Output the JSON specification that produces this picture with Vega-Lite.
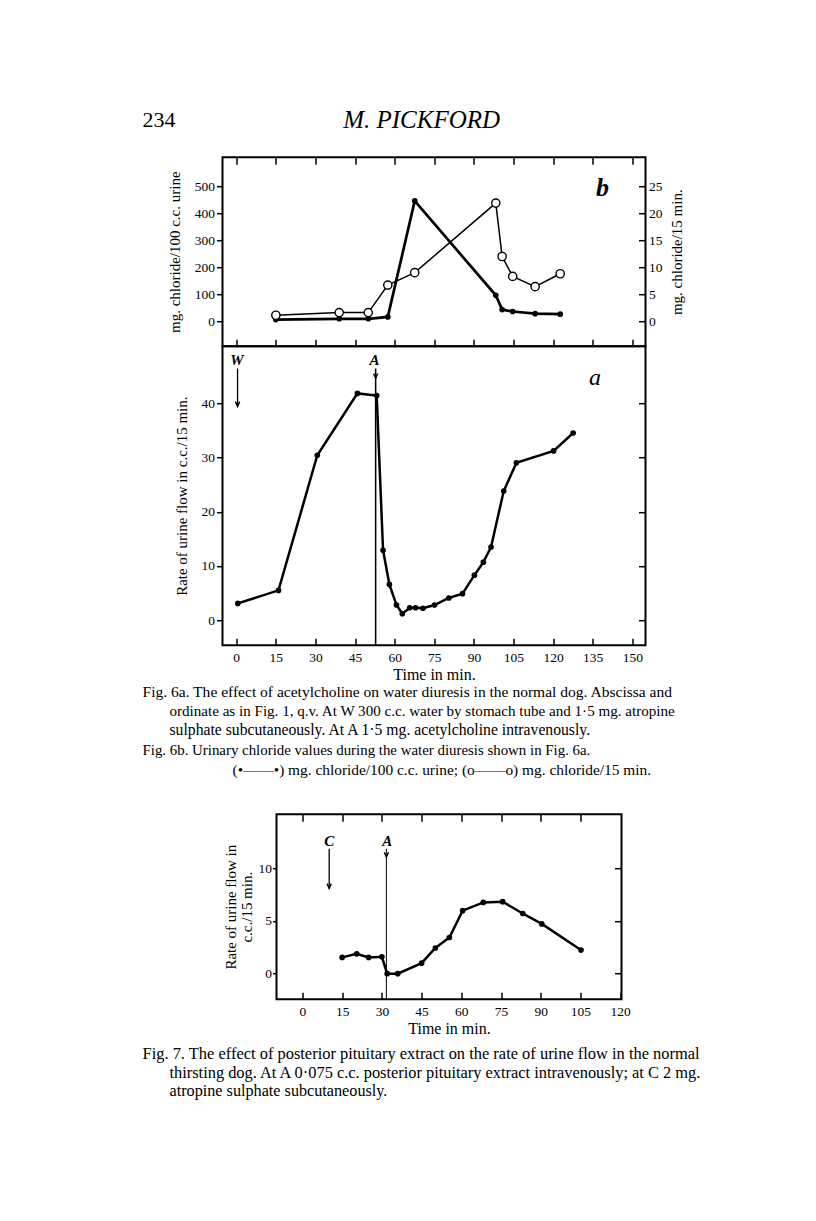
{
"$schema": "https://vega.github.io/schema/vega-lite/v6.json",
"background": "white",
"padding": {"left": 140.5, "top": 106.2, "right": 5, "bottom": 5},
"bounds": "flush",
"spacing": 0,
"config": {
  "view": {"stroke": "black", "strokeWidth": 2},
  "font": "Liberation Serif",
  "axis": {"domain": false, "grid": false, "labelFont": "Liberation Serif", "labelFontSize": 13.5, "labelColor": "black", "tickColor": "black", "tickWidth": 1.5, "titleFont": "Liberation Serif", "titleFontSize": 15, "titleFontWeight": "normal", "titleColor": "black", "labelFlush": false, "labelOverlap": false},
  "text": {"font": "Liberation Serif", "color": "black"}
},
"vconcat": [
  {
    "width": 423, "height": 189,
    "data": {"values": [
      {"t": 15, "conc": 6, "rate": 1.1},
      {"t": 39, "conc": 9, "rate": 1.6},
      {"t": 50, "conc": 9, "rate": 1.6},
      {"t": 57.4, "conc": 16, "rate": 6.7},
      {"t": 67.6, "conc": 446, "rate": 9.0},
      {"t": 98.3, "conc": 96, "rate": 21.9},
      {"t": 100.7, "conc": 43, "rate": 12.0},
      {"t": 104.7, "conc": 36, "rate": 8.3},
      {"t": 113.2, "conc": 28, "rate": 6.4},
      {"t": 122.7, "conc": 26, "rate": 8.8}
    ]},
    "layer": [
      {"mark": {"type": "line", "color": "black", "strokeWidth": 2.7},
       "encoding": {
         "x": {"field": "t", "type": "quantitative", "scale": {"domain": [-5.2, 155], "nice": false, "zero": false}, "axis": {"orient": "bottom", "values": [0,15,30,45,60,75,90,105,120,135,150], "labels": false, "tickSize": -7, "title": null}},
         "y": {"field": "conc", "type": "quantitative", "scale": {"domain": [-92.6, 608], "nice": false, "zero": false}, "axis": {"orient": "left", "values": [0,100,200,300,400,500], "tickSize": 6, "labelPadding": 2, "title": "mg. chloride/100 c.c. urine", "titlePadding": 12}}
       }},
      {"mark": {"type": "point", "filled": true, "color": "black", "size": 32, "opacity": 1},
       "encoding": {
         "x": {"field": "t", "type": "quantitative", "axis": null},
         "y": {"field": "conc", "type": "quantitative", "scale": {"domain": [-92.6, 608], "nice": false, "zero": false}, "axis": null}
       }},
      {"mark": {"type": "line", "color": "black", "strokeWidth": 1.5},
       "encoding": {
         "x": {"field": "t", "type": "quantitative", "axis": {"orient": "top", "values": [0,15,30,45,60,75,90,105,120,135,150], "labels": false, "tickSize": -7, "title": null}},
         "y": {"field": "rate", "type": "quantitative", "scale": {"domain": [-4.63, 30.4], "nice": false, "zero": false}, "axis": {"orient": "right", "values": [0,5,10,15,20,25], "tickSize": -7, "labelPadding": 10, "title": "mg. chloride/15 min.", "titleAngle": 270, "titleBaseline": "top", "titlePadding": 8}}
       }},
      {"mark": {"type": "point", "shape": "circle", "fill": "white", "stroke": "black", "strokeWidth": 1.4, "size": 68, "opacity": 1},
       "encoding": {
         "x": {"field": "t", "type": "quantitative", "axis": null},
         "y": {"field": "rate", "type": "quantitative", "scale": {"domain": [-4.63, 30.4], "nice": false, "zero": false}, "axis": null}
       }}
    ],
    "resolve": {"scale": {"y": "independent"}, "axis": {"x": "independent", "y": "independent"}}
  },
  {
    "width": 423, "height": 299,
    "data": {"values": [
      {"t": 0.6, "flow": 3.1}, {"t": 16, "flow": 5.5}, {"t": 30.7, "flow": 30.4}, {"t": 45.9, "flow": 41.8},
      {"t": 53.2, "flow": 41.4}, {"t": 55.6, "flow": 12.9}, {"t": 58, "flow": 6.6}, {"t": 60.7, "flow": 2.8},
      {"t": 62.9, "flow": 1.2}, {"t": 65.7, "flow": 2.3}, {"t": 67.9, "flow": 2.3}, {"t": 70.7, "flow": 2.2},
      {"t": 75.1, "flow": 2.8}, {"t": 80.5, "flow": 4.1}, {"t": 85.7, "flow": 4.9}, {"t": 90.2, "flow": 8.3},
      {"t": 93.6, "flow": 10.7}, {"t": 96.5, "flow": 13.5}, {"t": 101.3, "flow": 23.8}, {"t": 106.1, "flow": 29.0},
      {"t": 120.2, "flow": 31.2}, {"t": 127.6, "flow": 34.5}
    ]},
    "layer": [
      {"mark": {"type": "line", "color": "black", "strokeWidth": 2.5},
       "encoding": {
         "x": {"field": "t", "type": "quantitative", "scale": {"domain": [-5.2, 155], "nice": false, "zero": false}, "axis": {"orient": "bottom", "values": [0,15,30,45,60,75,90,105,120,135,150], "tickSize": -7, "labelPadding": 12, "title": "Time in min.", "titlePadding": 3, "titleFontSize": 16}},
         "y": {"field": "flow", "type": "quantitative", "scale": {"domain": [-4.6, 50.5], "nice": false, "zero": false}, "axis": {"orient": "left", "values": [0,10,20,30,40], "tickSize": 6, "labelPadding": 2, "title": "Rate of urine flow in c.c./15 min.", "titlePadding": 12}}
       }},
      {"mark": {"type": "point", "filled": true, "color": "black", "size": 32, "opacity": 1},
       "encoding": {
         "x": {"field": "t", "type": "quantitative", "axis": null},
         "y": {"field": "flow", "type": "quantitative", "axis": {"orient": "right", "values": [0,10,20,30,40], "labels": false, "tickSize": -7, "title": null}}
       }},
      {"data": {"values": [{}]},
       "mark": {"type": "rule", "color": "black", "strokeWidth": 1.5},
       "encoding": {"x": {"datum": 52.8, "axis": null}, "y": {"datum": 46.4, "axis": null}, "y2": {"datum": -4.6}}},
      {"data": {"values": [{}]},
       "mark": {"type": "rule", "color": "black", "strokeWidth": 1.3},
       "encoding": {"x": {"datum": 0.5, "axis": null}, "y": {"datum": 46.4, "axis": null}, "y2": {"datum": 39.4}}},
      {"data": {"values": [{}]},
       "mark": {"type": "point", "shape": "M-0.7,-1.6L0,0L0.7,-1.6", "filled": false, "stroke": "black", "strokeWidth": 1.4, "size": 36, "opacity": 1},
       "encoding": {"x": {"datum": 0.5, "axis": null}, "y": {"datum": 39.4, "axis": null}}},
      {"data": {"values": [{}]},
       "mark": {"type": "point", "shape": "M-0.7,-1.6L0,0L0.7,-1.6", "filled": false, "stroke": "black", "strokeWidth": 1.4, "size": 36, "opacity": 1},
       "encoding": {"x": {"datum": 52.8, "axis": null}, "y": {"datum": 44.6, "axis": null}}},
      {"data": {"values": [{}]},
       "mark": {"type": "text", "fontSize": 15, "fontStyle": "italic", "fontWeight": "bold", "text": "W"},
       "encoding": {"x": {"datum": 0.3, "axis": null}, "y": {"datum": 47.9, "axis": null}}},
      {"data": {"values": [{}]},
       "mark": {"type": "text", "fontSize": 15, "fontStyle": "italic", "fontWeight": "bold", "text": "A"},
       "encoding": {"x": {"datum": 52.4, "axis": null}, "y": {"datum": 47.9, "axis": null}}},
      {"data": {"values": [{}]},
       "mark": {"type": "text", "fontSize": 24, "fontStyle": "italic", "text": "a"},
       "encoding": {"x": {"datum": 135.9, "axis": null}, "y": {"datum": 44.6, "axis": null}}},
      {"data": {"values": [{}]},
       "mark": {"type": "text", "fontSize": 26, "fontStyle": "italic", "fontWeight": "bold", "text": "b"},
       "encoding": {"x": {"datum": 138.7, "axis": null}, "y": {"datum": 79.6, "axis": null}}},
      {"data": {"values": [{}]},
       "mark": {"type": "text", "fontSize": 22, "align": "left", "text": "234"},
       "encoding": {"x": {"datum": -35.5, "axis": null}, "y": {"datum": 92.15, "axis": null}}},
      {"data": {"values": [{}]},
       "mark": {"type": "text", "fontSize": 25, "fontStyle": "italic", "text": "M. PICKFORD"},
       "encoding": {"x": {"datum": 70.2, "axis": null}, "y": {"datum": 92.15, "axis": null}}},
      {"data": {"values": [{}]},
       "mark": {"type": "text", "fontSize": 15.55, "align": "left", "text": "Fig. 6a.  The effect of acetylcholine on water diuresis in the normal dog. Abscissa and"},
       "encoding": {"x": {"datum": -35.5, "axis": null}, "y": {"datum": -13.26, "axis": null}}},
      {"data": {"values": [{}]},
       "mark": {"type": "text", "fontSize": 15.1, "align": "left", "text": "ordinate as in Fig. 1, q.v. At W 300 c.c. water by stomach tube and 1·5 mg. atropine"},
       "encoding": {"x": {"datum": -25.27, "axis": null}, "y": {"datum": -16.76, "axis": null}}},
      {"data": {"values": [{}]},
       "mark": {"type": "text", "fontSize": 15.7, "align": "left", "text": "sulphate subcutaneously. At A 1·5 mg. acetylcholine intravenously."},
       "encoding": {"x": {"datum": -25.27, "axis": null}, "y": {"datum": -20.17, "axis": null}}},
      {"data": {"values": [{}]},
       "mark": {"type": "text", "fontSize": 14.9, "align": "left", "text": "Fig. 6b.  Urinary chloride values during the water diuresis shown in Fig. 6a."},
       "encoding": {"x": {"datum": -35.5, "axis": null}, "y": {"datum": -24.13, "axis": null}}},
      {"data": {"values": [{}]},
       "mark": {"type": "text", "fontSize": 15.4, "align": "left", "text": "(•——•) mg. chloride/100 c.c. urine; (o——o) mg. chloride/15 min."},
       "encoding": {"x": {"datum": -1.41, "axis": null}, "y": {"datum": -27.54, "axis": null}}}
    ],
    "resolve": {"axis": {"x": "independent", "y": "independent"}}
  },
  {
    "width": 423, "height": 169,
    "data": {"values": [{"v": 0}]},
    "mark": {"type": "point", "opacity": 0},
    "encoding": {},
    "view": {"stroke": null}
  },
  {
    "bounds": "flush",
    "spacing": 0,
    "hconcat": [
      {
        "width": 54, "height": 185,
        "data": {"values": [{"v": 0}]},
        "mark": {"type": "point", "opacity": 0},
        "encoding": {},
        "view": {"stroke": null}
      },
      {
        "width": 345, "height": 185,
        "data": {"values": [
          {"t": 15, "flow": 1.5}, {"t": 20.5, "flow": 1.84}, {"t": 25, "flow": 1.5}, {"t": 30, "flow": 1.55},
          {"t": 32, "flow": -0.06}, {"t": 36, "flow": -0.06}, {"t": 45, "flow": 0.95}, {"t": 50.2, "flow": 2.4},
          {"t": 55.5, "flow": 3.4}, {"t": 60.5, "flow": 5.97}, {"t": 68.3, "flow": 6.76}, {"t": 75.6, "flow": 6.83},
          {"t": 83.2, "flow": 5.7}, {"t": 90.4, "flow": 4.7}, {"t": 105.2, "flow": 2.2}
        ]},
        "layer": [
          {"mark": {"type": "line", "color": "black", "strokeWidth": 2.5},
           "encoding": {
             "x": {"field": "t", "type": "quantitative", "scale": {"domain": [-9.8, 120.5], "nice": false, "zero": false}, "axis": {"orient": "bottom", "values": [0,15,30,45,60,75,90,105,120], "tickSize": -7, "labelPadding": 12, "title": "Time in min.", "titlePadding": 3, "titleFontSize": 16}},
             "y": {"field": "flow", "type": "quantitative", "scale": {"domain": [-2.5, 15.2], "nice": false, "zero": false}, "axis": {"orient": "left", "values": [0,5,10], "tickSize": 4, "labelPadding": 1, "title": ["Rate of urine flow in", "c.c./15 min."], "titlePadding": 3, "titleLineHeight": 17}}
           }},
          {"mark": {"type": "point", "filled": true, "color": "black", "size": 32, "opacity": 1},
           "encoding": {
             "x": {"field": "t", "type": "quantitative", "axis": {"orient": "top", "values": [0,15,30,45,60,75,90,105], "labels": false, "tickSize": -7, "title": null}},
             "y": {"field": "flow", "type": "quantitative", "axis": {"orient": "right", "values": [0,5,10], "labels": false, "tickSize": -7, "title": null}}
           }},
          {"data": {"values": [{}]},
           "mark": {"type": "rule", "color": "black", "strokeWidth": 1},
           "encoding": {"x": {"datum": 31.7, "axis": null}, "y": {"datum": 11.9, "axis": null}, "y2": {"datum": -2.5}}},
          {"data": {"values": [{}]},
           "mark": {"type": "rule", "color": "black", "strokeWidth": 1.3},
           "encoding": {"x": {"datum": 10.1, "axis": null}, "y": {"datum": 11.9, "axis": null}, "y2": {"datum": 8.1}}},
          {"data": {"values": [{}]},
           "mark": {"type": "point", "shape": "M-0.7,-1.6L0,0L0.7,-1.6", "filled": false, "stroke": "black", "strokeWidth": 1.4, "size": 36, "opacity": 1},
           "encoding": {"x": {"datum": 10.1, "axis": null}, "y": {"datum": 8.1, "axis": null}}},
          {"data": {"values": [{}]},
           "mark": {"type": "point", "shape": "M-0.7,-1.6L0,0L0.7,-1.6", "filled": false, "stroke": "black", "strokeWidth": 1.4, "size": 36, "opacity": 1},
           "encoding": {"x": {"datum": 31.7, "axis": null}, "y": {"datum": 11.1, "axis": null}}},
          {"data": {"values": [{}]},
           "mark": {"type": "text", "fontSize": 15, "fontStyle": "italic", "fontWeight": "bold", "text": "C"},
           "encoding": {"x": {"datum": 10.1, "axis": null}, "y": {"datum": 12.6, "axis": null}}},
          {"data": {"values": [{}]},
           "mark": {"type": "text", "fontSize": 15, "fontStyle": "italic", "fontWeight": "bold", "text": "A"},
           "encoding": {"x": {"datum": 32, "axis": null}, "y": {"datum": 12.6, "axis": null}}},
          {"data": {"values": [{}]},
           "mark": {"type": "text", "fontSize": 16.45, "align": "left", "text": "Fig. 7.  The effect of posterior pituitary extract on the rate of urine flow in the normal"},
           "encoding": {"x": {"datum": -60.41, "axis": null}, "y": {"datum": -7.76, "axis": null}}},
          {"data": {"values": [{}]},
           "mark": {"type": "text", "fontSize": 16.4, "align": "left", "text": "thirsting dog. At A 0·075 c.c. posterior pituitary extract intravenously; at C 2 mg."},
           "encoding": {"x": {"datum": -50.21, "axis": null}, "y": {"datum": -9.58, "axis": null}}},
          {"data": {"values": [{}]},
           "mark": {"type": "text", "fontSize": 16.2, "align": "left", "text": "atropine sulphate subcutaneously."},
           "encoding": {"x": {"datum": -50.21, "axis": null}, "y": {"datum": -11.3, "axis": null}}}
        ],
        "resolve": {"axis": {"x": "independent", "y": "independent"}}
      }
    ]
  }
]
}
